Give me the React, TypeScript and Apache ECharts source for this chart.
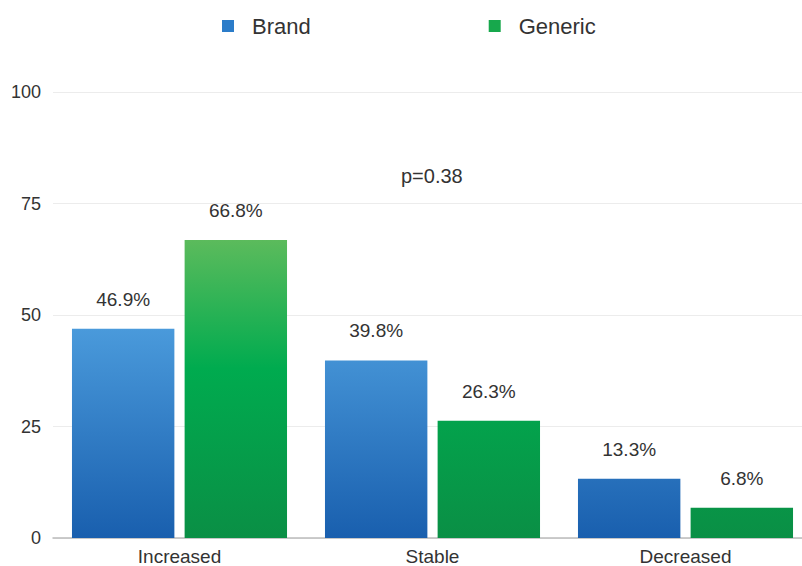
import React, { useEffect, useRef } from "react";
import * as echarts from "echarts";

const categories = ["Increased", "Stable", "Decreased"];
const brandValues = [46.9, 39.8, 13.3];
const genericValues = [66.8, 26.3, 6.8];
const seriesNames = ["Brand", "Generic"];
const legendColors = ["#2b7cc9", "#17a84c"];
const pValueText = "p=0.38";

const FONT = "'Liberation Sans', Arial, Helvetica, sans-serif";

export default function App() {
  const ref = useRef<HTMLDivElement>(null);
  useEffect(() => {
    if (!ref.current) return;
    const chart = echarts.init(ref.current, null, { renderer: "svg" });
    const blue = new echarts.graphic.LinearGradient(0, 92, 0, 538, [
      { offset: 0, color: "#62ade9" },
      { offset: 0.53, color: "#4a9adb" },
      { offset: 1, color: "#195fae" },
    ], true);
    const green = new echarts.graphic.LinearGradient(0, 92, 0, 538, [
      { offset: 0, color: "#66c266" },
      { offset: 0.33, color: "#5cbb5c" },
      { offset: 0.62, color: "#00ab4f" },
      { offset: 1, color: "#0a8f45" },
    ], true);
    const labelStyle = {
      show: true,
      position: "top" as const,
      distance: 20,
      fontSize: 19,
      color: "#333",
      fontFamily: FONT,
      formatter: (p: any) => p.value.toFixed(1) + "%",
    };
    chart.setOption({
      animation: false,
      textStyle: { fontFamily: FONT },
      legend: {
        left: 222,
        top: 15,
        padding: 0,
        itemWidth: 12,
        itemHeight: 12,
        itemGap: 178,
        icon: "rect",
        data: seriesNames.map((name, i) => ({ name, itemStyle: { color: legendColors[i] } })),
        textStyle: { fontSize: 22, color: "#333", fontFamily: FONT, padding: [0, 0, 0, 13] },
      },
      grid: { left: 53, right: 0, top: 92, bottom: 28, containLabel: false },
      xAxis: {
        type: "category",
        data: categories,
        axisTick: { show: false },
        axisLine: { lineStyle: { color: "#bbbbbb", width: 1.5 } },
        axisLabel: { fontSize: 19, color: "#333", margin: 9, fontFamily: FONT },
      },
      yAxis: {
        type: "value",
        min: 0,
        max: 100,
        interval: 25,
        axisLine: { show: false },
        axisTick: { show: false },
        splitLine: { lineStyle: { color: "#ececec", width: 1 } },
        axisLabel: { fontSize: 18, color: "#333", margin: 12, fontFamily: FONT },
      },
      series: [
        {
          name: seriesNames[0],
          type: "bar",
          data: brandValues,
          barGap: "10%",
          barCategoryGap: "15%",
          itemStyle: { color: blue },
          label: labelStyle,
        },
        {
          name: seriesNames[1],
          type: "bar",
          data: genericValues,
          barGap: "10%",
          barCategoryGap: "15%",
          itemStyle: { color: green },
          label: labelStyle,
        },
      ],
      graphic: [
        {
          type: "text",
          left: 401,
          top: 166,
          style: { text: pValueText, fontSize: 20, fill: "#333", fontFamily: FONT },
        },
      ],
    });
    return () => chart.dispose();
  }, []);
  return (
    <div style={{ position: "fixed", left: 0, top: 0, width: 802, height: 566, overflow: "hidden", background: "#fff" }}>
      <div ref={ref} style={{ width: 812, height: 566 }} />
    </div>
  );
}
